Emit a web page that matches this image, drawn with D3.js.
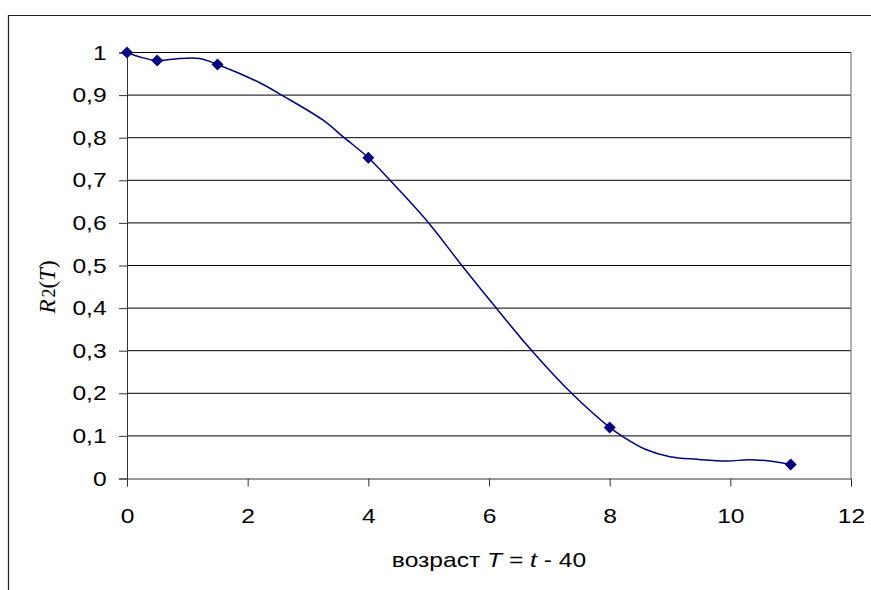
<!DOCTYPE html>
<html>
<head>
<meta charset="utf-8">
<script src="https://cdn.jsdelivr.net/npm/d3@7"></script>
<style>
  body { margin: 0; background: #fff; }
  svg { display: block; }
</style>
</head>
<body>
<div class="container"></div>
<script>
// measured points (markers)
const ageT = [0, 0.5, 1.5, 4, 8, 11]
const r2 = [1, 0.981, 0.972, 0.753, 0.12, 0.033]

// smoothed line as drawn in the original
const curveT = [0, 0.25, 0.5, 0.8, 1.2, 1.5, 2.2, 2.6, 3.25, 3.6, 4, 4.36, 5, 5.55, 6.12, 6.71, 7.37, 8, 8.2, 8.6, 9, 9.45, 9.95, 10.3, 10.65, 11]
const curveR = [1, 0.988, 0.981, 0.985, 0.986, 0.972, 0.929, 0.897, 0.841, 0.8, 0.753, 0.7, 0.6, 0.5, 0.4, 0.3, 0.2, 0.12, 0.1, 0.068, 0.051, 0.045, 0.041, 0.044, 0.041, 0.033]

const xTicks = [0, 2, 4, 6, 8, 10, 12]
const yTicks = [0, 0.1, 0.2, 0.3, 0.4, 0.5, 0.6, 0.7, 0.8, 0.9, 1]

let outerWidth = 871
let outerHeight = 590
let margin = {top: 52.5, bottom: 111.5, left: 127, right: 20}
let width = outerWidth - margin.left - margin.right
let height = outerHeight - margin.top - margin.bottom

// the original's text is drawn a bit wider than normal Arial
const stretch = 1.2

const root = d3.select(".container")
    .append("svg")
    .attr("width", outerWidth)
    .attr("height", outerHeight)

// chart area frame (only top and left edges visible)
root.append("path")
    .attr("d", "M8.5,590 V15.5 H871")
    .attr("fill", "none")
    .attr("stroke", "#222")
    .attr("stroke-width", 1.2)

const svg = root.append("g")
    .attr("transform", `translate(${margin.left}, ${margin.top})`)

// Scales
const xScale = d3.scaleLinear()
    .domain([0, 12])
    .range([0, width])

const yScale = d3.scaleLinear()
    .domain([0, 1])
    .range([height, 0])

const fmt = d => d3.format("~g")(d).replace(".", ",")

// Grid lines
svg.selectAll(".grid")
    .data(yTicks.filter(d => d > 0))
    .enter()
    .append("line")
    .attr("x1", 0)
    .attr("x2", width)
    .attr("y1", d => yScale(d))
    .attr("y2", d => yScale(d))
    .attr("stroke", "#000")
    .attr("stroke-width", 1)

// right border of plot area
svg.append("line")
    .attr("x1", width).attr("x2", width)
    .attr("y1", 0).attr("y2", height)
    .attr("stroke", "#808080")
    .attr("stroke-width", 1.2)

// Axes
const xAxis = d3.axisBottom(xScale)
    .tickValues(xTicks)
    .tickSizeOuter(0)
    .tickSize(8)
    .tickPadding(22)
    .tickFormat(fmt)

const yAxis = d3.axisLeft(yScale)
    .tickValues(yTicks)
    .tickSizeOuter(0)
    .tickSize(8)
    .tickPadding(9)
    .tickFormat(fmt)

const axisStyle = g => {
    g.selectAll("line, path").attr("stroke", "#333")
    g.selectAll("text")
        .attr("font-family", "'Liberation Sans', Arial, sans-serif")
        .attr("font-size", 20.5)
        .attr("fill", "#000")
        .attr("transform", `scale(${stretch}, 1)`)
}

svg.append("g")
    .attr("class", "axis x-axis")
    .attr("transform", `translate(0, ${height})`)
    .call(xAxis)
    .call(axisStyle)

svg.append("g")
    .attr("class", "axis y-axis")
    .call(yAxis)
    .call(axisStyle)

// Line
const curvePts = curveT.map((t, i) => ({t: t, r: curveR[i]}))
const line = d3.line()
    .x(d => xScale(d.t))
    .y(d => yScale(d.r))
    .curve(d3.curveCatmullRom.alpha(0.5))

svg.append("path")
    .datum(curvePts)
    .attr("fill", "none")
    .attr("stroke", "#000080")
    .attr("stroke-width", 1.5)
    .attr("d", line)

// Markers
const points = ageT.map((t, i) => ({t: t, r: r2[i]}))
svg.selectAll(".marker")
    .data(points)
    .enter()
    .append("path")
    .attr("d", d3.symbol(d3.symbolSquare, 72))
    .attr("transform", d => `translate(${xScale(d.t)}, ${yScale(d.r)}) rotate(45)`)
    .attr("fill", "#000080")

// Axis titles
const xTitle = root.append("text")
    .attr("transform", `translate(489, 567) scale(${stretch}, 1)`)
    .attr("text-anchor", "middle")
    .attr("font-family", "'Liberation Sans', Arial, sans-serif")
    .attr("font-size", 20.5)
xTitle.append("tspan").text("возраст  ")
xTitle.append("tspan").attr("font-style", "italic").text("T")
xTitle.append("tspan").text(" = ")
xTitle.append("tspan").attr("font-style", "italic").text("t")
xTitle.append("tspan").text("  - 40")

const yTitle = root.append("text")
    .attr("transform", "translate(55, 287) rotate(-90)")
    .attr("text-anchor", "middle")
    .attr("font-family", "'Liberation Serif', 'Times New Roman', serif")
    .attr("font-size", 23)
yTitle.append("tspan").attr("font-style", "italic").text("R")
yTitle.append("tspan").attr("font-size", 18).attr("dx", 2).text("2")
yTitle.append("tspan").text("(")
yTitle.append("tspan").attr("font-style", "italic").text("T")
yTitle.append("tspan").text(")")
</script>
</body>
</html>
